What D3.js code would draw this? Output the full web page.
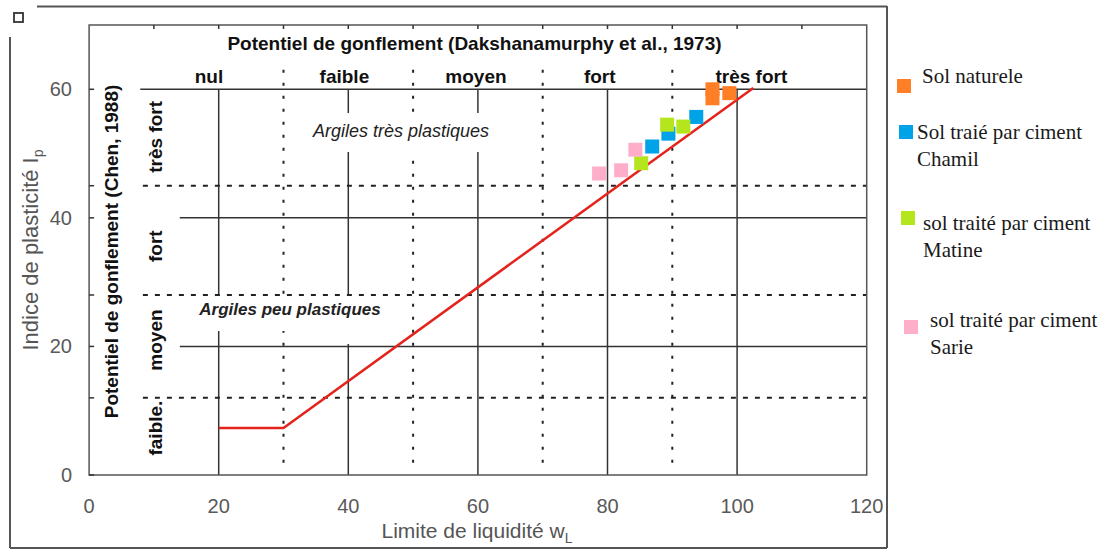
<!DOCTYPE html>
<html>
<head>
<meta charset="utf-8">
<script src="https://cdn.jsdelivr.net/npm/d3@7"></script>
<style>
  body { margin: 0; background: #fff; }
  text { font-family: "Liberation Sans", Arial, sans-serif; }
</style>
</head>
<body>
<svg id="chart"></svg>
<script>
// data (wL, Ip)
const solNaturel = [[96.2, 60.0], [96.2, 58.6], [98.8, 59.4]];
const solChamil  = [[93.7, 55.7], [89.4, 53.1], [86.9, 51.1]];
const solMatine  = [[89.2, 54.5], [91.7, 54.2], [85.2, 48.5]];
const solSarie   = [[84.3, 50.6], [82.1, 47.4], [78.7, 46.9]];
const aLine = [[20, 7.3], [30, 7.3], [102.5, 60.2]];

const xTicks = [0, 20, 40, 60, 80, 100, 120];
const yTicks = [0, 20, 40, 60];
const colSolid = [20, 40, 60, 80, 100];
const colDotted = [30, 50, 70, 90];
const rowSolid = [20, 40, 60];
const rowDashed = [12, 28, 45];

const swellCols = ['nul', 'faible', 'moyen', 'fort', 'très fort'];
const swellColX = [18.5, 39.4, 59.7, 78.8, 102.2];
const swellRows = ['très fort', 'fort', 'moyen', 'faible.'];
const swellRowY = [52.6, 35.6, 21, 7.3];

const legendNames = [['Sol naturele'], ['Sol traié par ciment', 'Chamil'],
  ['sol traité par ciment', 'Matine'], ['sol traité par ciment', 'Sarie']];
const colors = ['#ff7f27', '#00a2e8', '#b5e61d', '#ffaec9'];

const width = 1108, height = 550;
const svg = d3.select('#chart').attr('width', width).attr('height', height);

const x = d3.scaleLinear().domain([0, 120]).range([89.1, 866.7]);
const y = d3.scaleLinear().domain([0, 70]).range([475, 25]);

// outer frame of the figure
svg.append('line').attr('x1', 37).attr('x2', 887).attr('y1', 6.5).attr('y2', 6.5)
  .style('stroke', '#555').style('stroke-width', 2);
svg.append('line').attr('x1', 10).attr('x2', 10).attr('y1', 37).attr('y2', 548)
  .style('stroke', '#555').style('stroke-width', 2);
svg.append('line').attr('x1', 887).attr('x2', 887).attr('y1', 6).attr('y2', 548)
  .style('stroke', '#555').style('stroke-width', 2);
svg.append('line').attr('x1', 10).attr('x2', 887).attr('y1', 548).attr('y2', 548)
  .style('stroke', '#555').style('stroke-width', 2);
svg.append('rect').attr('x', 14).attr('y', 13).attr('width', 9).attr('height', 9)
  .style('fill', 'none').style('stroke', '#333').style('stroke-width', 1.8);

const grid = svg.append('g');

// solid grid
grid.selectAll('line.vs').data(colSolid).enter().append('line')
  .attr('x1', d => x(d)).attr('x2', d => x(d)).attr('y1', y(0)).attr('y2', y(60))
  .style('stroke', '#333').style('stroke-width', 1.5);
grid.selectAll('line.hs').data(rowSolid).enter().append('line')
  .attr('x1', d => x(d === 60 ? 7.9 : 14)).attr('x2', x(120)).attr('y1', d => y(d)).attr('y2', d => y(d))
  .style('stroke', '#333').style('stroke-width', 1.5);

// dotted / dashed limits
grid.selectAll('line.vd').data(colDotted).enter().append('line')
  .attr('x1', d => x(d)).attr('x2', d => x(d)).attr('y1', y(1.9)).attr('y2', y(63.3))
  .style('stroke', '#222').style('stroke-width', 2).style('stroke-dasharray', '3,10');
grid.selectAll('line.hd').data(rowDashed).enter().append('line')
  .attr('x1', x(8.3)).attr('x2', x(120)).attr('y1', d => y(d)).attr('y2', d => y(d))
  .style('stroke', '#222').style('stroke-width', 2).style('stroke-dasharray', '5,7');

// white boxes behind the italic notes (and the small break in the 45 line)
svg.append('rect').attr('x', 295).attr('y', 113).attr('width', 232).attr('height', 39).style('fill', '#fff');
svg.append('rect').attr('x', 195).attr('y', 296).attr('width', 190).attr('height', 35).style('fill', '#fff');
svg.append('rect').attr('x', 337).attr('y', 296).attr('width', 21).attr('height', 48).style('fill', '#fff');
svg.append('rect').attr('x', 546).attr('y', 181).attr('width', 16).attr('height', 8).style('fill', '#fff');

// plot frame and ticks
svg.append('rect').attr('x', x(0)).attr('y', y(70)).attr('width', x(120) - x(0)).attr('height', y(0) - y(70))
  .style('fill', 'none').style('stroke', '#555').style('stroke-width', 1.5);
svg.selectAll('line.tt').data(d3.range(10, 120, 10)).enter().append('line')
  .attr('x1', d => x(d)).attr('x2', d => x(d)).attr('y1', y(70)).attr('y2', y(70) + 4)
  .style('stroke', '#333').style('stroke-width', 1.5);
svg.selectAll('line.lt').data(yTicks.concat(rowDashed)).enter().append('line')
  .attr('x1', x(0)).attr('x2', x(0) + 5).attr('y1', d => y(d)).attr('y2', d => y(d))
  .style('stroke', '#333').style('stroke-width', 1.5);

// tick labels
svg.selectAll('text.xt').data(xTicks).enter().append('text')
  .attr('x', d => x(d)).attr('y', 513).attr('text-anchor', 'middle')
  .style('font-size', '20px').style('fill', '#595959').text(d => d);
svg.selectAll('text.yt').data(yTicks).enter().append('text')
  .attr('x', 72).attr('y', d => y(d) + 7).attr('text-anchor', 'end')
  .style('font-size', '20px').style('fill', '#595959').text(d => d);

// axis titles
const xl = svg.append('text').attr('x', 477).attr('y', 538).attr('text-anchor', 'middle')
  .style('font-size', '21px').style('fill', '#555');
xl.append('tspan').text('Limite de liquidité w');
xl.append('tspan').attr('dy', 5).style('font-size', '14px').text('L');

const yl = svg.append('text').attr('transform', 'translate(38,250) rotate(-90)').attr('text-anchor', 'middle')
  .style('font-size', '22px').style('fill', '#555');
yl.append('tspan').text('Indice de plasticité I');
yl.append('tspan').attr('dy', 5).style('font-size', '14px').text('p');

// classification texts
svg.append('text').attr('x', 474.5).attr('y', 50).attr('text-anchor', 'middle')
  .style('font-size', '19px').style('font-weight', 'bold').style('fill', '#111')
  .text('Potentiel de gonflement (Dakshanamurphy et al., 1973)');
svg.selectAll('text.col').data(swellCols).enter().append('text')
  .attr('x', (d, i) => x(swellColX[i])).attr('y', 83).attr('text-anchor', 'middle')
  .style('font-size', '19px').style('font-weight', 'bold').style('fill', '#111').text(d => d);
svg.selectAll('text.row').data(swellRows).enter().append('text')
  .attr('transform', (d, i) => `translate(162,${y(swellRowY[i])}) rotate(-90)`).attr('text-anchor', 'middle')
  .style('font-size', '19px').style('font-weight', 'bold').style('fill', '#111').text(d => d);
svg.append('text').attr('transform', 'translate(118,251.5) rotate(-90)').attr('text-anchor', 'middle')
  .style('font-size', '19px').style('font-weight', 'bold').style('fill', '#111')
  .text('Potentiel de gonflement (Chen, 1988)');
svg.append('text').attr('x', 401).attr('y', 137).attr('text-anchor', 'middle')
  .style('font-size', '18px').style('font-style', 'italic').style('fill', '#222')
  .text('Argiles très plastiques');
svg.append('text').attr('x', 290).attr('y', 315).attr('text-anchor', 'middle')
  .style('font-size', '17px').style('font-style', 'italic').style('font-weight', 'bold').style('fill', '#222')
  .text('Argiles peu plastiques');

// A-line
svg.append('path').datum(aLine)
  .attr('d', d3.line().x(d => x(d[0])).y(d => y(d[1])))
  .style('fill', 'none').style('stroke', '#e3231c').style('stroke-width', 2.5);

// points
const series = [solNaturel, solChamil, solMatine, solSarie];
const sz = 14;
series.forEach((s, k) => {
  svg.selectAll('rect.s' + k).data(s).enter().append('rect')
    .attr('x', d => x(d[0]) - sz / 2).attr('y', d => y(d[1]) - sz / 2)
    .attr('width', sz).attr('height', sz).style('fill', colors[k]);
});

// legend
const legSq = [[897, 79], [899, 125], [901, 211], [904, 320]];
const legTxt = [[922, 83], [917, 139], [923, 230], [930, 327]];
legendNames.forEach((lines, k) => {
  svg.append('rect').attr('x', legSq[k][0]).attr('y', legSq[k][1]).attr('width', 14).attr('height', 14)
    .style('fill', colors[k]);
  const t = svg.append('text').attr('x', legTxt[k][0]).attr('y', legTxt[k][1])
    .style('font-family', '"Liberation Serif", "Times New Roman", serif').style('font-size', '21px').style('fill', '#1a1a1a');
  lines.forEach((l, j) => {
    t.append('tspan').attr('x', legTxt[k][0]).attr('dy', j === 0 ? 0 : 27).text(l);
  });
});
</script>
</body>
</html>
